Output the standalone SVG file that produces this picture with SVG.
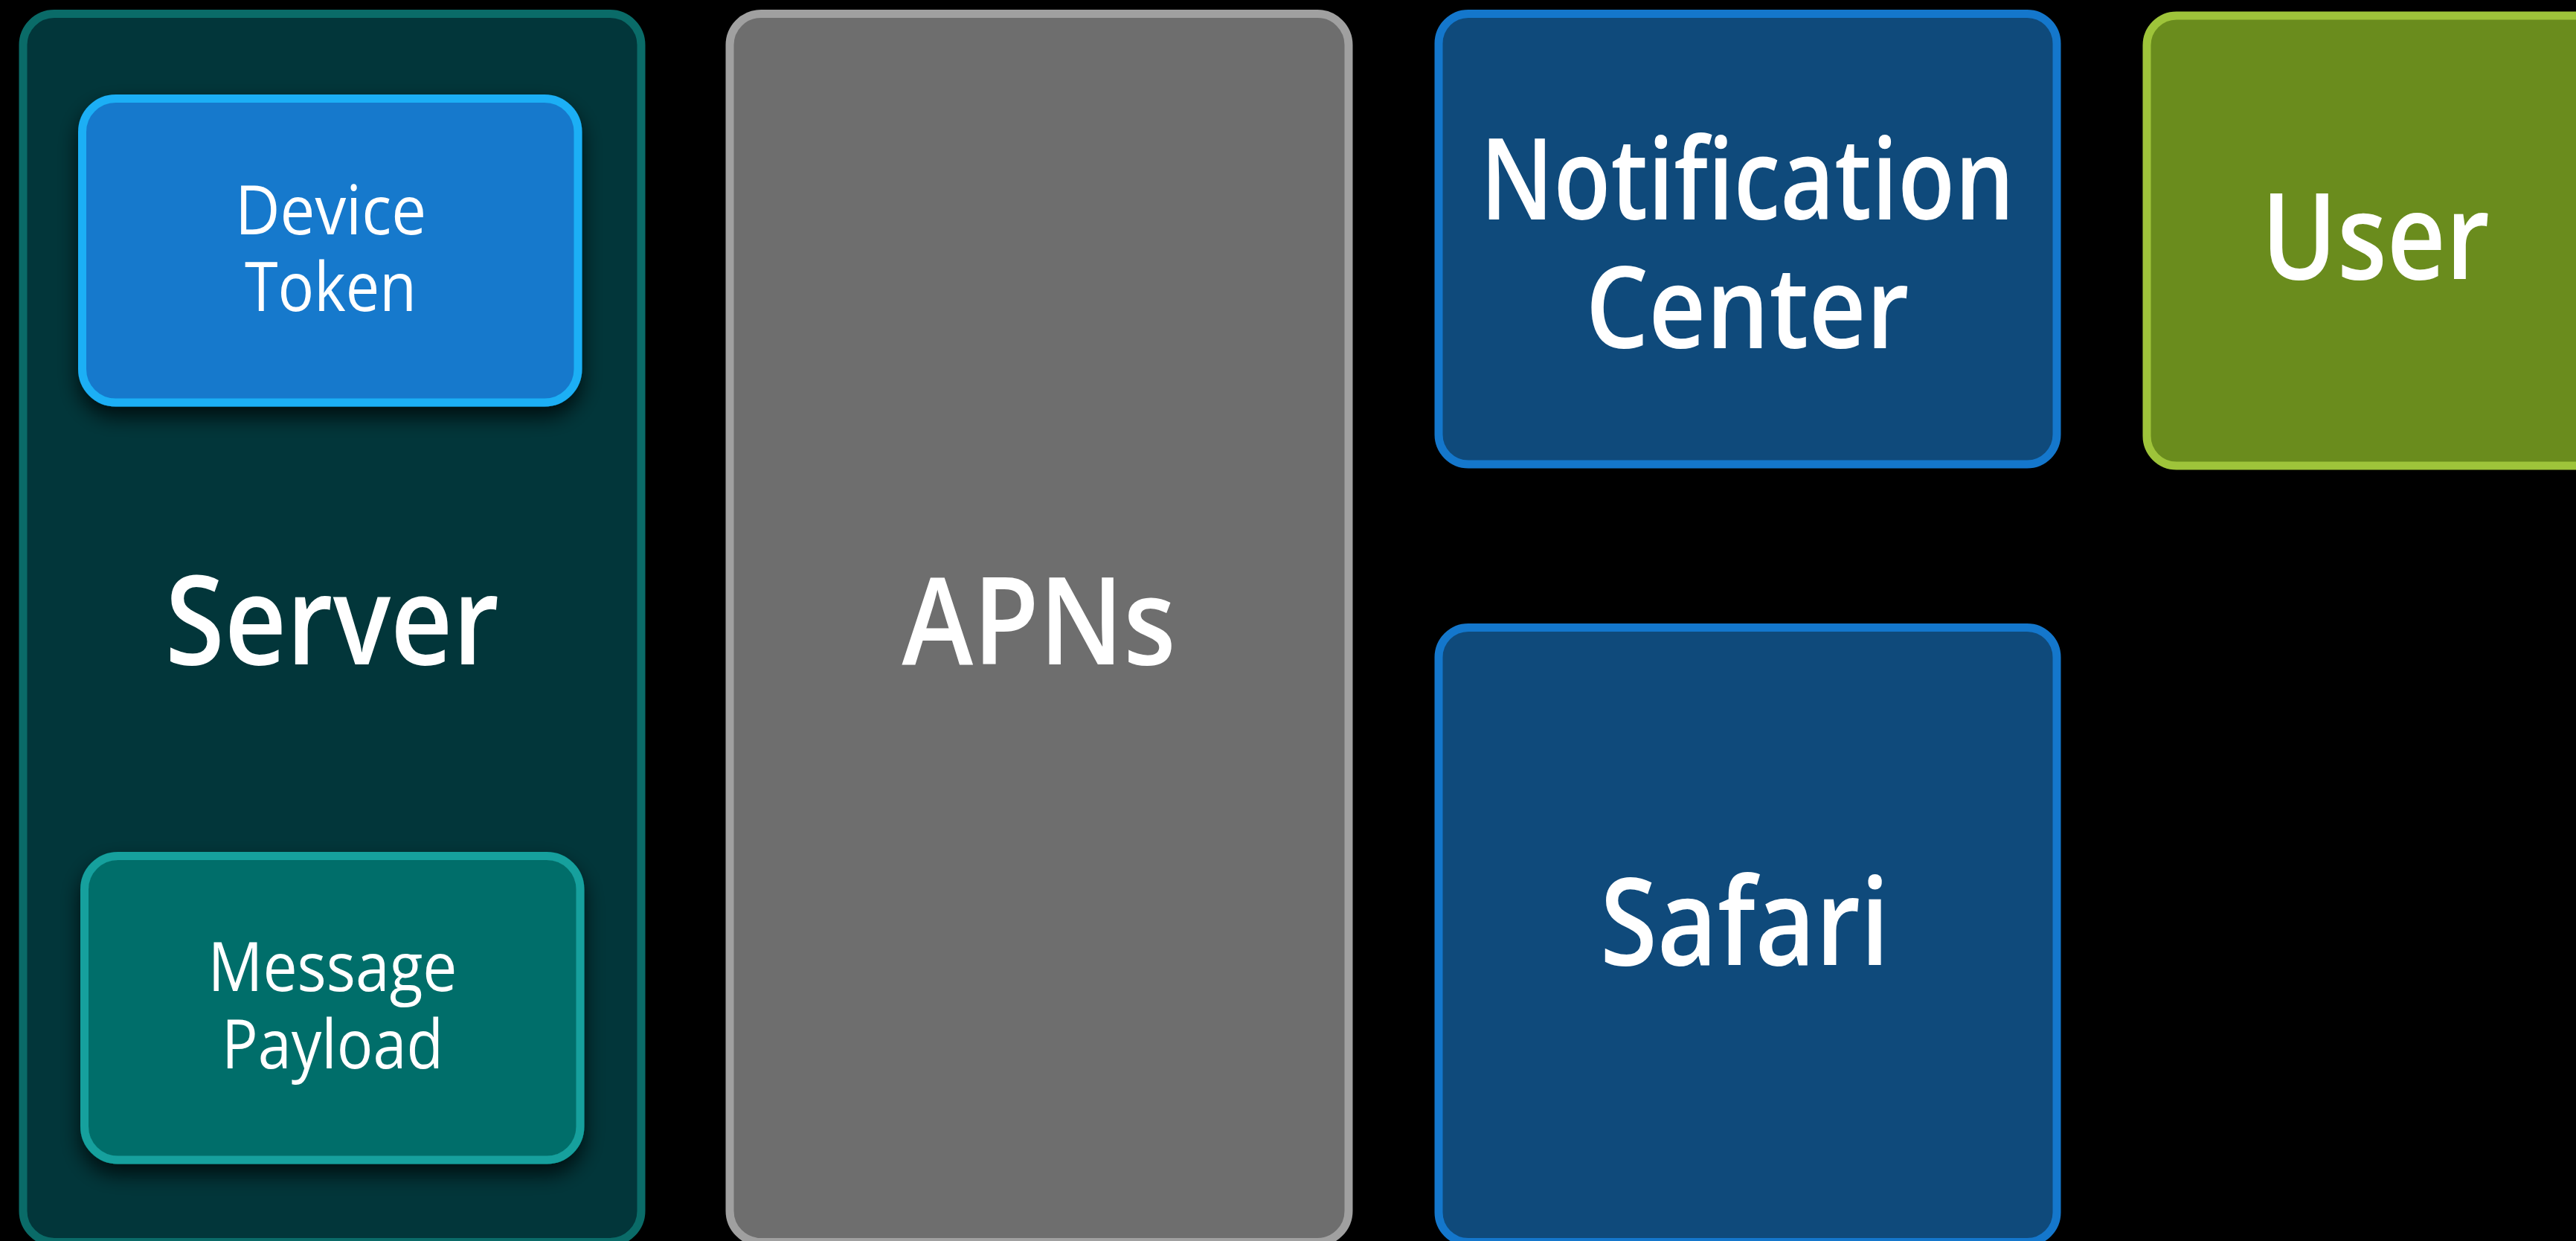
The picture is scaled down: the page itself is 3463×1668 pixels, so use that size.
<svg xmlns="http://www.w3.org/2000/svg" width="3463" height="1668" viewBox="0 0 3463 1668">
  <defs>
    <filter id="shadow" x="-20%" y="-20%" width="140%" height="150%">
      <feDropShadow dx="0" dy="14" stdDeviation="14" flood-color="#000" flood-opacity="0.75"/>
    </filter>
  </defs>
  <style>
    .box { stroke-width: 11; }
    .big { font-family: "Open Sans", "Noto Sans", sans-serif; font-weight: 600; fill: #ffffff; text-anchor: middle; }
    .small { font-family: "Open Sans", "Noto Sans", sans-serif; font-weight: 400; fill: #ffffff; text-anchor: middle; }
    .server { fill: #02363a; stroke: #0a6b68; }
    .token { fill: #1479cc; stroke: #1aaff5; }
    .payload { fill: #066e6b; stroke: #12a09d; }
    .apns { fill: #6e6e6e; stroke: #a0a0a0; }
    .blue { fill: #0f4a7b; stroke: #1477cc; }
    .user { fill: #6a8c1d; stroke: #9ec43a; }
  </style>
  <rect x="0" y="0" width="3463" height="1668" fill="#000000"/>

  <g id="server">
    <rect class="box server" x="31" y="18.5" width="831" height="1651" rx="42" ry="42"/>
    <text class="big" x="446.5" y="893" font-size="166" textLength="449" lengthAdjust="spacingAndGlyphs">Server</text>
  </g>

  <g id="device-token">
    <rect class="box token" x="110.5" y="132.5" width="666.5" height="408.5" rx="45" ry="45" filter="url(#shadow)"/>
    <text class="small" font-size="91"><tspan x="444.5" y="314.5" textLength="257" lengthAdjust="spacingAndGlyphs">Device</tspan><tspan x="444.5" y="418" textLength="231" lengthAdjust="spacingAndGlyphs">Token</tspan></text>
  </g>

  <g id="message-payload">
    <rect class="box payload" x="113.5" y="1150.5" width="666.5" height="408.5" rx="45" ry="45" filter="url(#shadow)"/>
    <text class="small" font-size="91"><tspan x="447" y="1332" textLength="335" lengthAdjust="spacingAndGlyphs">Message</tspan><tspan x="447" y="1436" textLength="298" lengthAdjust="spacingAndGlyphs">Payload</tspan></text>
  </g>

  <g id="apns">
    <rect class="box apns" x="981" y="18.5" width="832" height="1651" rx="42" ry="42"/>
    <text class="big" x="1396.5" y="893" font-size="164" textLength="368" lengthAdjust="spacingAndGlyphs">APNs</text>
  </g>

  <g id="notification-center">
    <rect class="box blue" x="1934" y="18.5" width="831" height="605.5" rx="40" ry="40"/>
    <text class="big" font-size="152"><tspan x="2349" y="295" textLength="718" lengthAdjust="spacingAndGlyphs">Notification</tspan><tspan x="2349" y="468" textLength="435" lengthAdjust="spacingAndGlyphs">Center</tspan></text>
  </g>

  <g id="safari">
    <rect class="box blue" x="1934" y="843.5" width="831" height="826" rx="40" ry="40"/>
    <text class="big" x="2345.5" y="1297" font-size="164" textLength="389" lengthAdjust="spacingAndGlyphs">Safari</text>
  </g>

  <g id="user">
    <rect class="box user" x="2886" y="21" width="831" height="605" rx="40" ry="40"/>
    <text class="big" x="3193.5" y="375" font-size="162" textLength="307" lengthAdjust="spacingAndGlyphs">User</text>
  </g>

  <g id="connectors"></g>
</svg>
